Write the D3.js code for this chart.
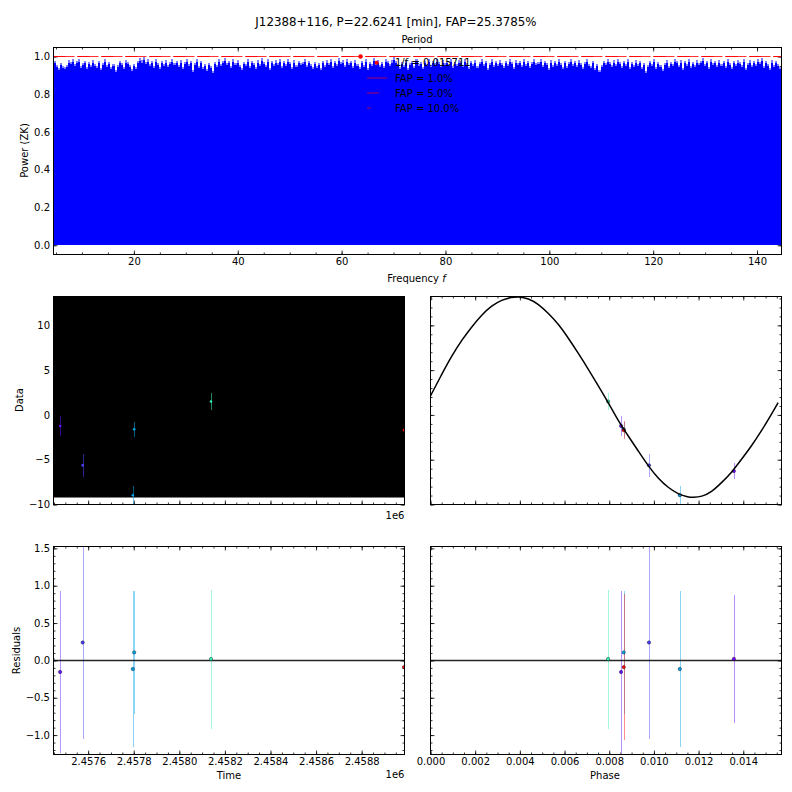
<!DOCTYPE html>
<html><head><meta charset="utf-8">
<script src="https://cdn.jsdelivr.net/npm/d3@7"></script>
<style>
html,body{margin:0;padding:0;background:#fff}
svg{display:block}
text{font-family:"DejaVu Sans",sans-serif;fill:#000}
</style></head><body>
<svg id="c" width="792" height="792"></svg>
<script>
// ---- data ----
const titleText = "J12388+116, P=22.6241 [min], FAP=25.3785%";
const powerPeaks = [
.975,.955,.94,.965,.95,.945,.955,.98,.97,.985,.96,.975,.985,.95,.965,.975,.945,.97,.955,.98,.96,.95,.975,.94,.965,.985,.955,.97,.945,.96,.93,.955,.975,.965,.945,.98,.97,.955,.935,.96,.945,.975,.99,.98,.995,.97,.985,.96,.975,.95,.985,.965,.945,.975,.96,.98,.955,.97,.985,.965,.975,.955,.98,.945,.97,.985,.96,.975,.93,.965,.985,.95,.975,.945,.96,.935,.965,.95,.925,.97,.955,.985,.96,.975,.99,.965,.975,.95,.985,.965,.98,.955,.94,.97,.96,.985,.95,.975,.965,.945,.98,.96,.99,.97,.955,.985,.94,.975,.96,.98,.965,.985,.95,.975,.96,.985,.97,.945,.98,.955,.975,.965,
.97,.985,.955,.975,.96,.945,.97,.95,.965,.94,.975,.955,.98,.965,.985,.95,.975,.96,.99,.97,.98,.955,.985,.965,.975,.95,.98,.96,.945,.975,.955,.985,.94,.97,.96,.99,.965,.98,.955,.97,.95,.985,.975,.96,.98,.995,.975,.96,.945,.97,.955,.98,.94,.965,.975,.95,.985,.96,.97,.945,.975,.96,.985,.955,.975,.965,.985,.97,.955,.98,.965,.975,.96,.985,.95,.97,.96,.98,.975,.955,.985,.965,.945,.975,.96,.98,.95,.97,.985,.96,.975,.94,.965,.985,.955,.975,.96,.98,.965,.95,.975,.96,.985,.97,.945,.98,.965,.975,.955,.985,.96,.975,.95,.97,.985,.965,
.97,.985,.955,.975,.965,.94,.98,.955,.975,.96,.985,.965,.945,.975,.95,.97,.985,.96,.975,.955,.98,.965,.945,.97,.985,.96,.95,.975,.94,.96,.93,.955,.975,.965,.985,.97,.955,.98,.96,.985,.97,.95,.975,.96,.985,.945,.97,.955,.98,.96,.975,.945,.965,.925,.955,.975,.96,.985,.945,.97,.955,.935,.965,.98,.95,.97,.96,.985,.975,.955,.98,.94,.975,.96,.985,.95,.97,.955,.98,.965,.975,.99,.96,.975,.945,.985,.965,.975,.955,.98,.96,.975,.95,.985,.965,.945,.975,.96,.98,.97,.955,.985,.94,.965,.98,.955,.975,.96,.985,.97,.99,.95,.975,.96,.94,.98,.955,.975,.96,.945,.98];
const fapLevels = [1.0, 1.0, 1.0];
const fapNames = ["FAP = 1.0%", "FAP = 5.0%", "FAP = 10.0%"];
const fapDash = ["21,3", "12,12", "4,20"];
const bestFreq = 63.65, bestPower = 1.0, bestLabel = "1/f = 0.015711";

const times     = [2.457444,2.457477,2.457576,2.457796,2.457802,2.458139,2.458986];
const dataVals  = [-6.27,-1.23,-5.63,-8.96,-1.6,1.49,-1.7];
const phases    = [.01358,.00853,.00978,.01116,.00865,.00795,.00865];
const residuals = [.02,-.155,.24,-.116,.107,.018,-.09];
const errors    = [.86,1.09,1.29,1.05,.82,.93,.975];
const colors    = ["#7000ff","#6410ff","#4a40ff","#00a0e8","#00a8e8","#30f0b8","#ff0000"];

const modelPhase = [0,.000507,.000954,.001401,.001848,.002295,.002742,.003189,.003636,.003934,.004381,.004829,.005276,.005723,.00617,.006617,.007064,.007511,.007958,.008405,.008852,.0093,.009747,.010194,.010641,.011088,.011535,.011758,.012131,.012578,.013025,.013472,.013919,.014367,.014814,.015261,.015559];
const modelVal   = [2.13,4.55,6.6,8.36,9.85,11.19,12.2,12.84,13.13,13.22,13.02,12.39,11.34,10.15,8.58,6.87,5.11,3.25,1.38,-.67,-2.35,-4.03,-5.71,-7.09,-8.13,-8.84,-9.18,-9.22,-9.14,-8.62,-7.57,-6.46,-4.96,-3.47,-1.79,.07,1.38];

const freqTicks = [20,40,60,80,100,120,140];
const powerTicks = [0,.2,.4,.6,.8,1];
const dataTicks = [-10,-5,0,5,10];
const resTicks = [-1,-.5,0,.5,1,1.5];
const timeTicks = [2.4576,2.4578,2.458,2.4582,2.4584,2.4586,2.4588];
const phaseTicks = [0,.002,.004,.006,.008,.01,.012,.014];

// ---- layout ----
const svg = d3.select("#c");
const L1=53.5,R1=404.5,L2=430.5,R2=781.5;
const boxTop={x0:L1,x1:R2,y0:47.5,y1:254.5}, boxMid={y0:296.5,y1:504.5}, boxBot={y0:546.5,y1:754.5};

function rng(a,b,s){return d3.range(Math.ceil(a/s-1e-9),Math.floor(b/s+1e-9)+1).map(k=>k*s);}
function panel(id,x,y,box,opt){
  const g=svg.append("g");
  const w=box.x1-box.x0,h=box.y1-box.y0;
  g.append("defs").append("clipPath").attr("id",id).append("rect")
    .attr("x",box.x0).attr("y",box.y0).attr("width",w).attr("height",h);
  const tg=g.append("g");
  const minorX=rng(x.domain()[0],x.domain()[1],opt.mx),minorY=rng(y.domain()[0],y.domain()[1],opt.my);
  const ax=(gen,tv,tx,ty,len,fmt,pad)=>{
    const a=tg.append("g").attr("transform",`translate(${tx},${ty})`)
      .call(gen.tickValues(tv).tickSizeInner(-len).tickSizeOuter(0).tickPadding(pad||3.5).tickFormat(fmt||(()=>"")));
    a.select(".domain").remove();
    a.selectAll("line").attr("stroke","#000").attr("stroke-width",.8);
    a.selectAll("text").attr("font-size",10).attr("font-family",'"DejaVu Sans",sans-serif');
  };
  ax(d3.axisBottom(x),minorX,0,box.y1,2);ax(d3.axisTop(x),minorX,0,box.y0,2);
  ax(d3.axisLeft(y),minorY,box.x0,0,2);ax(d3.axisRight(y),minorY,box.x1,0,2);
  ax(d3.axisBottom(x),opt.xt,0,box.y1,4,opt.xf);ax(d3.axisTop(x),opt.xt,0,box.y0,4);
  ax(d3.axisLeft(y),opt.yt,box.x0,0,4,opt.yf);ax(d3.axisRight(y),opt.yt,box.x1,0,4);
  const c=g.append("g").attr("clip-path",`url(#${id})`);
  const over=g.append("g");
  over.append("rect").attr("x",box.x0).attr("y",box.y0).attr("width",w).attr("height",h)
    .attr("fill","none").attr("stroke","#000").attr("stroke-width",1);
  return {c,over};
}
function label(t,x,y,o={}){
  const e=svg.append("text").attr("x",x).attr("y",y).attr("font-size",o.s||10)
    .attr("text-anchor",o.a||"middle").text(t);
  if(o.r) e.attr("transform",`rotate(-90,${x},${y})`);
  return e;
}
const fmt1=d=>d.toFixed(1), fmt0=d=>String(d).replace("-","\u2212");

// ---- periodogram ----
const xF=d3.scaleLinear().domain([4.52,144.71]).range([L1,R2]);
const yP=d3.scaleLinear().domain([-.049,1.0477]).range([boxTop.y1,boxTop.y0]);
const p0=panel("cp0",xF,yP,boxTop,{mx:5,my:.05,xt:freqTicks,yt:powerTicks,xf:d=>d,yf:fmt1});
const idx=d3.scaleLinear().domain([0,powerPeaks.length-1]).range(xF.domain());
// pale tips, then the solid body just below them
p0.c.append("path").datum(powerPeaks)
  .attr("d",d3.area().x((d,i)=>xF(idx(i))).y0(yP(0)).y1(d=>yP(d)).curve(d3.curveStepAfter))
  .attr("fill","#0000ff").attr("fill-opacity",.5).attr("shape-rendering","crispEdges");
p0.c.append("path").datum(powerPeaks)
  .attr("d",d3.area().x((d,i)=>xF(idx(i))).y0(yP(0)).y1(d=>yP(d-.012)).curve(d3.curveStepAfter))
  .attr("fill","#0000ff").attr("shape-rendering","crispEdges");
fapLevels.forEach((lv,i)=>{
  p0.c.append("line").attr("x1",L1).attr("x2",R2).attr("y1",yP(lv)).attr("y2",yP(lv))
    .attr("stroke","#ff0000").attr("stroke-width",1).attr("stroke-opacity",.8)
    .attr("stroke-dasharray",fapDash[i]);
});
p0.c.append("circle").attr("cx",xF(bestFreq)).attr("cy",yP(bestPower)).attr("r",2.2).attr("fill","#ff0000");
// legend
const legY=[62.7,78,93,108];
const leg=p0.over.append("g");
leg.append("circle").attr("cx",376.6).attr("cy",legY[0]).attr("r",2).attr("fill","#ff0000");
leg.append("text").attr("x",395).attr("y",legY[0]+3.6).attr("font-size",10).text(bestLabel);
fapNames.forEach((n,i)=>{
  leg.append("line").attr("x1",367).attr("x2",367+[20,12,4][i]).attr("y1",legY[i+1]).attr("y2",legY[i+1])
    .attr("stroke","#ff0000").attr("stroke-width",1).attr("stroke-opacity",.65);
  leg.append("text").attr("x",395).attr("y",legY[i+1]+3.6).attr("font-size",10).text(n);
});
label(titleText,396,26,{s:11.85});
label("Period",417,43);
const fl=label("Frequency ",416.5,282);
fl.append("tspan").attr("font-style","italic").text("f");
label("Power (ZK)",28,150.5,{r:1});

// ---- shared scales ----
const xT=d3.scaleLinear().domain([2.457448,2.458988]).range([L1,R1]);
const xPh=d3.scaleLinear().domain([0,.015711]).range([L2,R2]);
const yD=d3.scaleLinear().domain([-10,13.22]).range([boxMid.y1,boxMid.y0]);
const yR=d3.scaleLinear().domain([-1.26,1.525]).range([boxBot.y1,boxBot.y0]);
const boxA=(b,x0,x1)=>({x0,x1,y0:b.y0,y1:b.y1});

function errs(g,xs,ys,es,xsc,ysc,op,w){
  g.append("g").attr("transform","translate(.5,0)").selectAll("line").data(xs).join("line")
    .attr("x1",d=>xsc(d)).attr("x2",d=>xsc(d))
    .attr("y1",(d,i)=>ysc(ys[i]-es[i])).attr("y2",(d,i)=>ysc(ys[i]+es[i]))
    .attr("stroke",(d,i)=>colors[i]).attr("stroke-width",w).attr("stroke-opacity",op)
    .attr("shape-rendering","crispEdges");
}
function dots(g,xs,ys,xsc,ysc,r,edge){
  g.selectAll(null).data(xs).join("circle")
    .attr("cx",d=>xsc(d)).attr("cy",(d,i)=>ysc(ys[i])).attr("r",r)
    .attr("fill",(d,i)=>colors[i])
    .attr("stroke",edge?"#000":"none").attr("stroke-width",edge?.7:0).attr("stroke-opacity",.55);
}

// ---- data vs time ----
const p1=panel("cp1",xT,yD,boxA(boxMid,L1,R1),{mx:.00005,my:1,xt:timeTicks,yt:dataTicks,yf:fmt0});
const [mMin,mMax]=d3.extent(modelVal);
p1.c.append("rect").attr("x",xT.range()[0]).attr("width",xT.range()[1]-xT.range()[0])
  .attr("y",yD(mMax)-2).attr("height",yD(mMin)-yD(mMax)+2).attr("fill","#000");
errs(p1.c,times,dataVals,errors,xT,yD,.55,1);
dots(p1.c,times,dataVals,xT,yD,1.3,false);
label("Data",23,400,{r:1});
label("1e6",404.5,518.5,{a:"end"});

// ---- data vs phase ----
const p2=panel("cp2",xPh,yD,boxA(boxMid,L2,R2),{mx:.0005,my:1,xt:phaseTicks,yt:dataTicks});
errs(p2.c,phases,dataVals,errors,xPh,yD,.45,1);
dots(p2.c,phases,dataVals,xPh,yD,1.7,true);
p2.c.append("path").datum(modelPhase)
  .attr("d",d3.line().x(d=>xPh(d)).y((d,i)=>yD(modelVal[i])).curve(d3.curveBasis))
  .attr("fill","none").attr("stroke","#000").attr("stroke-width",1.5);

// ---- residuals vs time ----
const p3=panel("cp3",xT,yR,boxA(boxBot,L1,R1),{mx:.00005,my:.1,xt:timeTicks,yt:resTicks,xf:d=>d.toFixed(4),yf:d=>d.toFixed(1).replace("-","\u2212")});
errs(p3.c,times,residuals,errors,xT,yR,.45,1);
p3.c.append("line").attr("x1",L1).attr("x2",R1).attr("y1",yR(0)).attr("y2",yR(0)).attr("stroke","#000").attr("stroke-width",1.5).attr("stroke-opacity",.85);
dots(p3.c,times,residuals,xT,yR,1.7,true);
label("Residuals",20,650.5,{r:1});
label("Time",229,779);
label("1e6",404.5,778,{a:"end"});

// ---- residuals vs phase ----
const p4=panel("cp4",xPh,yR,boxA(boxBot,L2,R2),{mx:.0005,my:.1,xt:phaseTicks,yt:resTicks,xf:d=>d.toFixed(3)});
errs(p4.c,phases,residuals,errors,xPh,yR,.45,1);
p4.c.append("line").attr("x1",L2).attr("x2",R2).attr("y1",yR(0)).attr("y2",yR(0)).attr("stroke","#000").attr("stroke-width",1.5).attr("stroke-opacity",.85);
dots(p4.c,phases,residuals,xPh,yR,1.7,true);
label("Phase",605,779);
</script>
</body></html>
